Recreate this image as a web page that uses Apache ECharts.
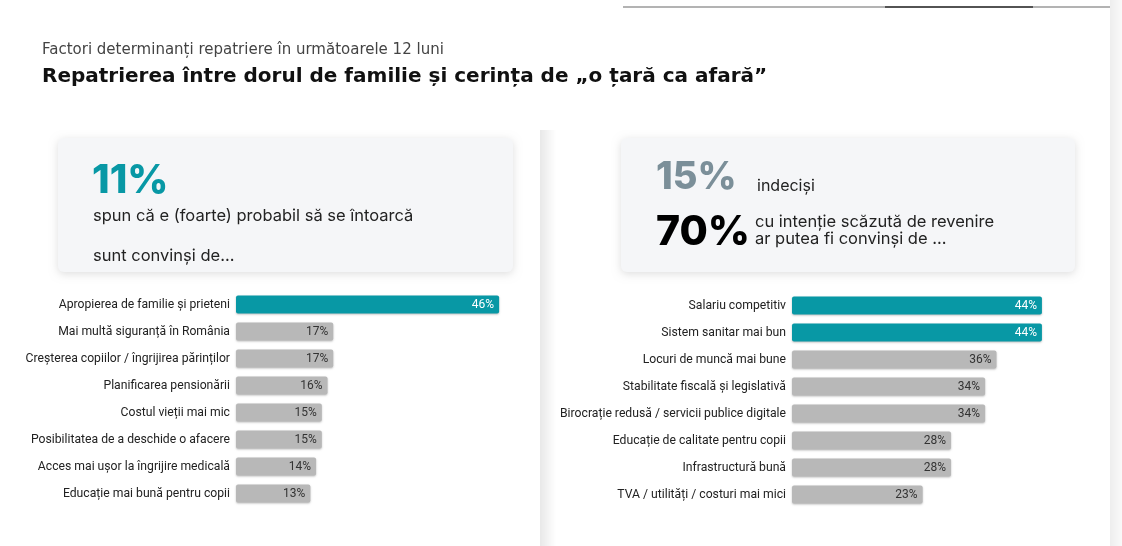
<!DOCTYPE html>
<html>
<head>
<meta charset="utf-8">
<script src="https://cdn.jsdelivr.net/npm/echarts@6/dist/echarts.min.js"></script>
<style>
html,body{margin:0;padding:0;background:#fff;}
#chart{width:1122px;height:546px;}
</style>
</head>
<body>
<div id="chart"></div>
<script>
// factori - cei care spun ca se intorc
var leftCats = ['Apropierea de familie și prieteni', 'Mai multă siguranță în România', 'Creșterea copiilor / îngrijirea părinților', 'Planificarea pensionării', 'Costul vieții mai mic', 'Posibilitatea de a deschide o afacere', 'Acces mai ușor la îngrijire medicală', 'Educație mai bună pentru copii'];
var leftVals = [46, 17, 17, 16, 15, 15, 14, 13];
var leftHighlight = 1;

// factori - indecisi / intentie scazuta
var rightCats = ['Salariu competitiv', 'Sistem sanitar mai bun', 'Locuri de muncă mai bune', 'Stabilitate fiscală și legislativă', 'Birocrație redusă / servicii publice digitale', 'Educație de calitate pentru copii', 'Infrastructură bună', 'TVA / utilități / costuri mai mici'];
var rightVals = [44, 44, 36, 34, 34, 28, 28, 23];
var rightHighlight = 2;

var subTitle = 'Factori determinanți repatriere în următoarele 12 luni';
var mainTitle = 'Repatrierea între dorul de familie și cerința de „o țară ca afară”';

var TEAL = '#0898a5';
var GREY = '#b8b8b8';
var TXT = '#222';
var SANS = 'Inter, sans-serif';
var WIDE = '"DejaVu Sans", sans-serif';

function barSeries(vals, nHi, idx){
	return {
		type: 'bar',
		xAxisIndex: idx,
		yAxisIndex: idx,
		barWidth: 18,
		data: vals.map(function(v, i){
			return {
				value: v,
				itemStyle: {
					color: i < nHi ? TEAL : GREY,
					borderRadius: 2,
					shadowColor: 'rgba(0,0,0,0.25)',
					shadowBlur: 2,
					shadowOffsetY: 1
				},
				label: {color: i < nHi ? '#fff' : '#333'}
			};
		}),
		label: {
			show: true,
			position: 'insideRight',
			distance: 5,
			formatter: '{c}%',
			fontFamily: 'Roboto',
			fontSize: 12
		},
		silent: true
	};
}

function catAxis(cats, idx){
	return {
		type: 'category',
		gridIndex: idx,
		data: cats,
		inverse: true,
		axisLine: {show: false},
		axisTick: {show: false},
		axisLabel: {color: TXT, fontFamily: 'Roboto', fontSize: 12.2, margin: 6}
	};
}

function valAxis(idx){
	return {
		type: 'value',
		gridIndex: idx,
		min: 0,
		max: 50,
		show: false,
		splitLine: {show: false}
	};
}

var cardStyle = {
	fill: '#f5f6f8',
	shadowColor: 'rgba(0,0,0,0.13)',
	shadowBlur: 8,
	shadowOffsetY: 2
};

var myChart = echarts.init(document.getElementById('chart'));
var option = {
	animation: false,
	grid: [
		{left: 236, top: 291, width: 286, height: 216},
		{left: 792, top: 292, width: 284, height: 216}
	],
	xAxis: [valAxis(0), valAxis(1)],
	yAxis: [catAxis(leftCats, 0), catAxis(rightCats, 1)],
	series: [barSeries(leftVals, leftHighlight, 0), barSeries(rightVals, rightHighlight, 1)],
	graphic: [
		// linia de sus
		{type: 'line', shape: {x1: 623, y1: 7, x2: 1110, y2: 7}, style: {stroke: '#9a9a9a', lineWidth: 1.5}, z: -1},
		{type: 'line', shape: {x1: 885, y1: 7, x2: 1033, y2: 7}, style: {stroke: '#333', lineWidth: 1.5}, z: -1},
		// umbre verticale
		{type: 'rect', shape: {x: 540, y: 130, width: 16, height: 416}, style: {fill: new echarts.graphic.LinearGradient(0, 0, 1, 0, [{offset: 0, color: 'rgba(0,0,0,0.09)'}, {offset: 1, color: 'rgba(0,0,0,0)'}])}, z: -2},
		{type: 'rect', shape: {x: 1110, y: 0, width: 12, height: 546}, style: {fill: new echarts.graphic.LinearGradient(0, 0, 1, 0, [{offset: 0, color: 'rgba(0,0,0,0.07)'}, {offset: 1, color: 'rgba(0,0,0,0.02)'}])}, z: -2},
		// titluri
		{type: 'text', x: 42, y: 50, style: {text: subTitle, font: '15px ' + WIDE, fill: '#444', verticalAlign: 'middle'}},
		{type: 'text', x: 42, y: 77, style: {text: mainTitle, font: 'bold 20px ' + WIDE, fill: '#111', verticalAlign: 'middle'}},
		// carduri
		{type: 'rect', shape: {x: 58, y: 138, width: 455, height: 134, r: 6}, style: cardStyle, z: -1},
		{type: 'rect', shape: {x: 621, y: 138, width: 454, height: 134, r: 6}, style: cardStyle, z: -1},
		// card stanga
		{type: 'text', x: 92, y: 181, style: {text: '11%', font: '800 40px ' + SANS, fill: TEAL, verticalAlign: 'middle'}},
		{type: 'text', x: 93, y: 216, style: {text: 'spun că e (foarte) probabil să se întoarcă', font: '16.5px ' + SANS, fill: TXT, verticalAlign: 'middle'}},
		{type: 'text', x: 93, y: 256, style: {text: 'sunt convinși de...', font: '16.5px ' + SANS, fill: TXT, verticalAlign: 'middle'}},
		// card dreapta
		{type: 'text', x: 656, y: 178, style: {text: '15%', font: '800 38px ' + SANS, fill: '#7b8f99', verticalAlign: 'middle'}},
		{type: 'text', x: 757, y: 186, style: {text: 'indeciși', font: '16px ' + SANS, fill: TXT, verticalAlign: 'middle'}},
		{type: 'text', x: 656, y: 233, style: {text: '70%', font: '800 41px ' + SANS, fill: '#000', verticalAlign: 'middle'}},
		{type: 'text', x: 755, y: 222, style: {text: 'cu intenție scăzută de revenire', font: '16.5px ' + SANS, fill: TXT, verticalAlign: 'middle'}},
		{type: 'text', x: 755, y: 239, style: {text: 'ar putea fi convinși de ...', font: '16.5px ' + SANS, fill: TXT, verticalAlign: 'middle'}}
	]
};
myChart.setOption(option);
</script>
</body>
</html>
